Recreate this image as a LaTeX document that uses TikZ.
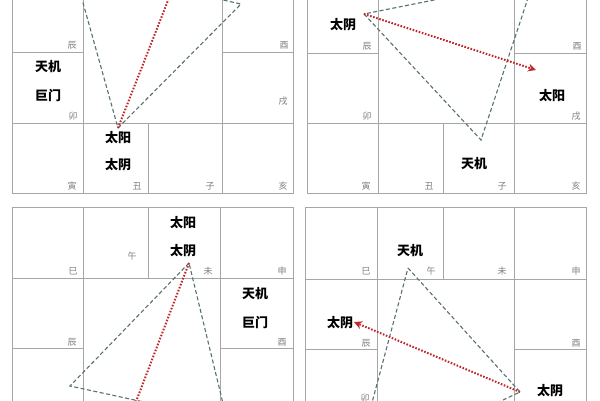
\documentclass[tikz,border=0pt]{standalone}
\usepackage{fontspec}
\newfontfamily\cjk{Noto Sans CJK SC}
\usetikzlibrary{arrows.meta}
\definecolor{gridgray}{HTML}{A6A6A6}
\definecolor{branchgray}{HTML}{808080}
\definecolor{tricolor}{HTML}{587070}
\definecolor{arrowred}{HTML}{C0282D}
\tikzset{
  gridline/.style={draw=gridgray,line width=0.9pt},
  branch/.style={text=branchgray,inner sep=0pt,font=\cjk\fontsize{9}{9}\selectfont},
  star/.style={text=black,inner sep=0pt,font=\cjk\bfseries\fontsize{13}{13}\selectfont},
  tri/.style={draw=tricolor,line width=1.1pt,dash pattern=on 4pt off 2.5pt},
  redline/.style={draw=arrowred,line width=2pt,dash pattern=on 1.6pt off 1.6pt,
    -{Stealth[length=8pt,width=8pt,fill=arrowred]}}
}
\begin{document}
\begin{tikzpicture}[x=1pt,y=-1pt]
      \useasboundingbox (0,0) rectangle (600,400);
      \clip (0,0) rectangle (600,400);
      % chart grids
      \begin{scope}[gridline]
        % top left
        \draw (12,-19) rectangle (293,193);
        \draw (83,-19) -- (83,193);
        \draw (222,-19) -- (222,193);
        \draw (12,52) -- (83,52);
        \draw (222,52) -- (293,52);
        \draw (12,123) -- (293,123);
        \draw (148,123) -- (148,193);
        % top right
        \draw (307,-19) rectangle (586,193);
        \draw (378,-19) -- (378,193);
        \draw (514,-19) -- (514,193);
        \draw (307,53) -- (378,53);
        \draw (514,53) -- (586,53);
        \draw (307,123) -- (586,123);
        \draw (443,123) -- (443,193);
        % bottom left
        \draw (12,207) rectangle (293,420);
        \draw (83,207) -- (83,420);
        \draw (220,207) -- (220,420);
        \draw (148,207) -- (148,278);
        \draw (12,278) -- (293,278);
        \draw (12,348) -- (83,348);
        \draw (220,348) -- (293,348);
        % bottom right
        \draw (305,207) rectangle (586,420);
        \draw (377,207) -- (377,420);
        \draw (514,207) -- (514,420);
        \draw (443,207) -- (443,279);
        \draw (305,279) -- (586,279);
        \draw (305,349) -- (377,349);
        \draw (514,349) -- (586,349);
      \end{scope}
      % earthly branches
      \begin{scope}[every node/.style={branch}]
        \node (chen1) at (72,45) {辰};
        \node (you1) at (284,45) {酉};
        \node (mao1) at (73,116) {卯};
        \node (xu1) at (283,101) {戌};
        \node (yin1) at (72,186) {寅};
        \node (chou1) at (137,186) {丑};
        \node (zi1) at (210,186) {子};
        \node (hai1) at (283,186) {亥};
        \node (chen2) at (367,46) {辰};
        \node (you2) at (577,46) {酉};
        \node (mao2) at (367,116) {卯};
        \node (xu2) at (576,116) {戌};
        \node (yin2) at (366,186) {寅};
        \node (chou2) at (429,186) {丑};
        \node (zi2) at (502,186) {子};
        \node (hai2) at (576,186) {亥};
        \node (si3) at (73,271) {巳};
        \node (wu3) at (132,256) {午};
        \node (wei3) at (208,271) {未};
        \node (shen3) at (282,271) {申};
        \node (chen3) at (72,342) {辰};
        \node (you3) at (282,342) {酉};
        \node (si4) at (366,271) {巳};
        \node (wu4) at (431,271) {午};
        \node (wei4) at (502,271) {未};
        \node (shen4) at (576,271) {申};
        \node (chen4) at (366,343) {辰};
        \node (you4) at (576,343) {酉};
        \node (mao4) at (365,398) {卯};
      \end{scope}
      % triangle corners
      \coordinate (a1) at (118,128);
      \coordinate (b1) at (241,4);
      \coordinate (c1) at (73,-33);
      \coordinate (e1) at (178,-25);
      \coordinate (a2) at (364,14);
      \coordinate (b2) at (481,140);
      \coordinate (c2) at (534,-20);
      \coordinate (e2) at (536,70);
      \coordinate (a3) at (189,263);
      \coordinate (b3) at (70,386);
      \coordinate (c3) at (227,420);
      \coordinate (e3) at (129,420);
      \coordinate (a4) at (408,268);
      \coordinate (b4) at (520,392);
      \coordinate (c4) at (354,470);
      \coordinate (e4) at (354,322);
      \draw[tri] (a1) -- (b1) -- (c1) -- cycle;
      \draw[tri] (a2) -- (b2) -- (c2) -- cycle;
      \draw[tri] (a3) -- (b3) -- (c3) -- cycle;
      \draw[tri] (a4) -- (b4) -- (c4) -- cycle;
      \begin{scope}[every edge/.style={redline}]
        \path (a1) edge (e1);
        \path (a2) edge (e2);
        \path (a3) edge (e3);
        \path (b4) edge (e4);
      \end{scope}
      % stars
      \begin{scope}[every node/.style={star}]
        \node (tianji1) at (48,67) {天机};
        \node (jumen1) at (48,96) {巨门};
        \node (taiyang1) at (118,138) {太阳};
        \node (taiyin1) at (118,165) {太阴};
        \node (taiyin2) at (343,25) {太阴};
        \node (taiyang2) at (552,96) {太阳};
        \node (tianji2) at (474,164) {天机};
        \node (taiyang3) at (183,223) {太阳};
        \node (taiyin3) at (183,251) {太阴};
        \node (tianji3) at (255,294) {天机};
        \node (jumen3) at (255,323) {巨门};
        \node (tianji4) at (410,251) {天机};
        \node (taiyin4) at (340,323) {太阴};
        \node (taiyin5) at (550,391) {太阴};
      \end{scope}
\end{tikzpicture}
\end{document}
